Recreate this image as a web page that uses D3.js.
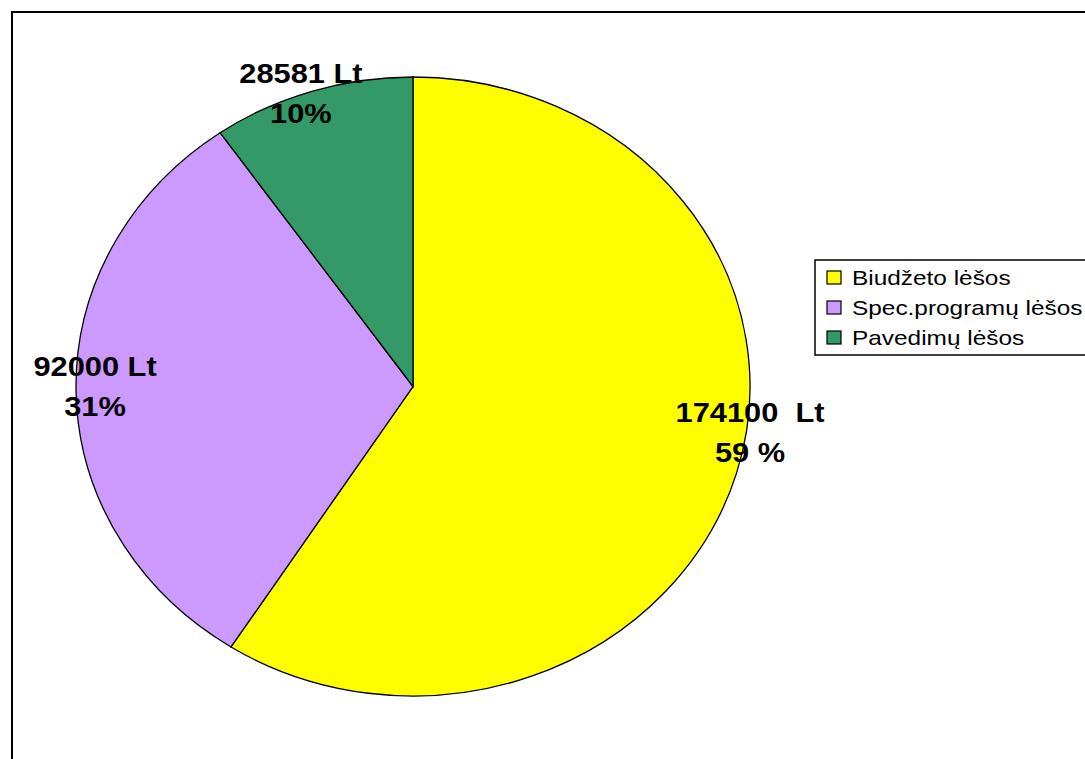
<!DOCTYPE html>
<html>
<head>
<meta charset="utf-8">
<script src="https://cdn.jsdelivr.net/npm/d3@7"></script>
<style>
  html, body { margin: 0; padding: 0; background: #fff; }
  svg { display: block; }
  text { white-space: pre; }
</style>
</head>
<body>
<svg id="chart" width="1085" height="759"></svg>
<script>
const categories = ["Biudžeto lėšos", "Spec.programų lėšos", "Pavedimų lėšos"];
const values = [174100, 92000, 28581];
const valueLabels = ["174100  Lt", "92000 Lt", "28581 Lt"];
const percentLabels = ["59 %", "31%", "10%"];
const colors = ["#FFFF00", "#CC99FF", "#339966"];

const svg = d3.select("#chart");
const W = 1085, H = 759;

// outer frame
svg.append("rect")
  .attr("x", 12).attr("y", 12)
  .attr("width", W + 20).attr("height", H + 20)
  .attr("fill", "#fff").attr("stroke", "#000").attr("stroke-width", 2);

const cx = 413, cy = 386.5, rx = 337, ry = 309.5;

const pie = d3.pie().sort(null).value(d => d)
  .startAngle(0).endAngle(2 * Math.PI);
const arcs = pie(values);
const arc = d3.arc().innerRadius(0).outerRadius(rx);

const g = svg.append("g")
  .attr("transform", `translate(${cx},${cy}) scale(1,${ry / rx})`);

g.selectAll("path.slice")
  .data(arcs)
  .enter().append("path")
  .attr("class", "slice")
  .attr("d", arc)
  .attr("fill", (d, i) => colors[i])
  .attr("stroke", "#000")
  .attr("stroke-width", 1.3)
  .attr("vector-effect", "non-scaling-stroke");

// label placement: radial factor and angular shift from slice mid-angle
const radialFactor = [1.016, 0.944, 0.976];
const angleShift = [-0.108, -0.013, -0.043];

const labels = svg.append("g")
  .attr("font-family", "Arial, 'Liberation Sans', sans-serif")
  .attr("font-weight", "bold")
  .attr("font-size", 28)
  .attr("fill", "#000")
  .attr("text-anchor", "middle");

arcs.forEach((d, i) => {
  const a = (d.startAngle + d.endAngle) / 2 + angleShift[i];
  const x = cx + Math.sin(a) * rx * radialFactor[i];
  const y = cy - Math.cos(a) * ry * radialFactor[i];
  labels.append("text")
    .attr("xml:space", "preserve")
    .attr("transform", `translate(${x},${y - 20}) scale(1.1,1)`)
    .text(valueLabels[i]);
  labels.append("text")
    .attr("xml:space", "preserve")
    .attr("transform", `translate(${x},${y + 20}) scale(1.1,1)`)
    .text(percentLabels[i]);
});

// legend
const legend = svg.append("g").attr("transform", "translate(815,260)");
legend.append("rect")
  .attr("x", 0).attr("y", 0).attr("width", 290).attr("height", 95)
  .attr("fill", "#fff").attr("stroke", "#000").attr("stroke-width", 1.5);

const rows = legend.selectAll("g.item").data(categories).enter()
  .append("g").attr("class", "item")
  .attr("transform", (d, i) => `translate(12, ${18 + i * 30})`);
rows.append("rect")
  .attr("x", 0).attr("y", -7).attr("width", 14).attr("height", 13)
  .attr("fill", (d, i) => colors[i]).attr("stroke", "#000").attr("stroke-width", 1.2);
rows.append("text")
  .attr("transform", "translate(25,7) scale(1.22,1)")
  .attr("font-family", "Arial, 'Liberation Sans', sans-serif")
  .attr("font-size", 20)
  .text(d => d);
</script>
</body>
</html>
